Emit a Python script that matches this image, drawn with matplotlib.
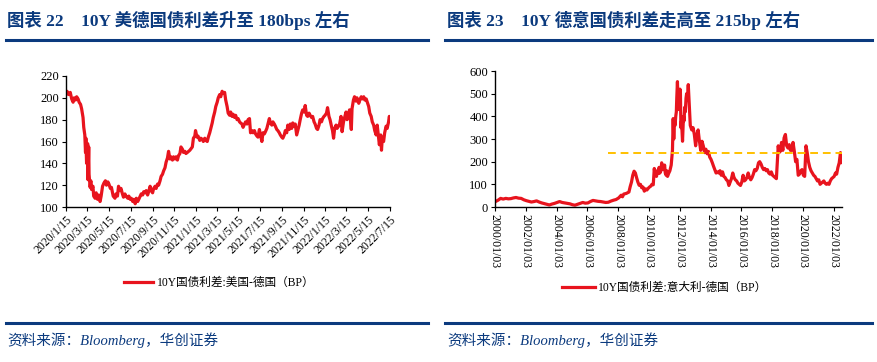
import pandas as pd
import numpy as np
import matplotlib.pyplot as plt
import matplotlib.lines as mlines

plt.rcParams['font.family'] = ['Liberation Serif', 'Noto Sans CJK SC']

# ---- left chart: 10Y US - German spread (bp)
us_de_dates = [
    '2020-01-15', '2020-01-18', '2020-01-22', '2020-01-27', '2020-01-31', '2020-02-04', '2020-02-07',
    '2020-02-11', '2020-02-14', '2020-02-18', '2020-02-21', '2020-02-25', '2020-02-28', '2020-03-03',
    '2020-03-05', '2020-03-08', '2020-03-10', '2020-03-11', '2020-03-13', '2020-03-16', '2020-03-17',
    '2020-03-19', '2020-03-20', '2020-03-23', '2020-03-25', '2020-03-27', '2020-03-31', '2020-04-02',
    '2020-04-06', '2020-04-09', '2020-04-13', '2020-04-16', '2020-04-20', '2020-04-23', '2020-04-27',
    '2020-05-01', '2020-05-05', '2020-05-08', '2020-05-12', '2020-05-15', '2020-05-19', '2020-05-22',
    '2020-05-27', '2020-06-01', '2020-06-04', '2020-06-08', '2020-06-11', '2020-06-15', '2020-06-18',
    '2020-06-22', '2020-06-25', '2020-06-29', '2020-07-02', '2020-07-07', '2020-07-10', '2020-07-14',
    '2020-07-17', '2020-07-21', '2020-07-24', '2020-07-28', '2020-07-31', '2020-08-04', '2020-08-07',
    '2020-08-11', '2020-08-14', '2020-08-18', '2020-08-21', '2020-08-25', '2020-08-28', '2020-09-01',
    '2020-09-04', '2020-09-08', '2020-09-11', '2020-09-15', '2020-09-18', '2020-09-22', '2020-09-25',
    '2020-09-29', '2020-10-02', '2020-10-06', '2020-10-09', '2020-10-13', '2020-10-16', '2020-10-20',
    '2020-10-23', '2020-10-27', '2020-10-30', '2020-11-03', '2020-11-06', '2020-11-10', '2020-11-13',
    '2020-11-17', '2020-11-20', '2020-11-24', '2020-11-27', '2020-12-01', '2020-12-04', '2020-12-08',
    '2020-12-11', '2020-12-15', '2020-12-18', '2020-12-22', '2020-12-29', '2021-01-05', '2021-01-08',
    '2021-01-12', '2021-01-14', '2021-01-18', '2021-01-21', '2021-01-26', '2021-01-29', '2021-02-02',
    '2021-02-05', '2021-02-09', '2021-02-12', '2021-02-16', '2021-02-19', '2021-02-23', '2021-02-26',
    '2021-03-02', '2021-03-05', '2021-03-09', '2021-03-12', '2021-03-16', '2021-03-19', '2021-03-23',
    '2021-03-26', '2021-03-30', '2021-04-02', '2021-04-06', '2021-04-09', '2021-04-13', '2021-04-16',
    '2021-04-20', '2021-04-23', '2021-04-27', '2021-04-30', '2021-05-04', '2021-05-07', '2021-05-11',
    '2021-05-14', '2021-05-18', '2021-05-21', '2021-05-25', '2021-05-28', '2021-06-01', '2021-06-04',
    '2021-06-08', '2021-06-11', '2021-06-15', '2021-06-18', '2021-06-22', '2021-06-25', '2021-06-29',
    '2021-07-02', '2021-07-06', '2021-07-09', '2021-07-13', '2021-07-16', '2021-07-20', '2021-07-23',
    '2021-07-27', '2021-07-30', '2021-08-03', '2021-08-06', '2021-08-10', '2021-08-13', '2021-08-17',
    '2021-08-20', '2021-08-24', '2021-08-27', '2021-08-31', '2021-09-03', '2021-09-07', '2021-09-10',
    '2021-09-14', '2021-09-17', '2021-09-21', '2021-09-24', '2021-09-28', '2021-10-01', '2021-10-05',
    '2021-10-08', '2021-10-12', '2021-10-15', '2021-10-19', '2021-10-22', '2021-10-26', '2021-10-29',
    '2021-11-02', '2021-11-05', '2021-11-09', '2021-11-12', '2021-11-16', '2021-11-19', '2021-11-23',
    '2021-11-26', '2021-11-30', '2021-12-03', '2021-12-07', '2021-12-10', '2021-12-14', '2021-12-17',
    '2021-12-21', '2021-12-24', '2021-12-28', '2021-12-31', '2022-01-04', '2022-01-07', '2022-01-11',
    '2022-01-14', '2022-01-18', '2022-01-21', '2022-01-25', '2022-01-28', '2022-02-01', '2022-02-04',
    '2022-02-07', '2022-02-10', '2022-02-14', '2022-02-17', '2022-02-21', '2022-02-24', '2022-02-28',
    '2022-03-03', '2022-03-07', '2022-03-10', '2022-03-14', '2022-03-17', '2022-03-21', '2022-03-24',
    '2022-03-29', '2022-03-31', '2022-04-04', '2022-04-07', '2022-04-11', '2022-04-14', '2022-04-19',
    '2022-04-22', '2022-04-26', '2022-04-29', '2022-05-03', '2022-05-06', '2022-05-10', '2022-05-13',
    '2022-05-17', '2022-05-20', '2022-05-24', '2022-05-27', '2022-05-31', '2022-06-03', '2022-06-07',
    '2022-06-10', '2022-06-14', '2022-06-16', '2022-06-20', '2022-06-22', '2022-06-24', '2022-06-28',
    '2022-07-01', '2022-07-05', '2022-07-08', '2022-07-12', '2022-07-14', '2022-07-18',
]
us_de_values = [
    204, 206, 203, 205, 199, 196, 200,
    198, 201, 199, 196, 194, 190, 182,
    173, 166, 150, 163, 140, 158, 125,
    155, 130, 118, 124, 116, 119, 110,
    108, 113, 107, 111, 105, 110, 119,
    122, 124, 120, 123, 121, 117, 118,
    110, 108, 112, 110, 119, 115, 117,
    112, 109, 112, 110, 108, 110, 107,
    108, 105, 107, 103, 108, 105, 107,
    110, 112, 111, 114, 113, 115, 111,
    114, 119, 115, 113, 117, 119, 117,
    121, 120, 124, 128, 130, 133, 136,
    141, 145, 151, 144, 146, 143, 146,
    144, 146, 143, 147, 149, 155, 153,
    150, 151, 149, 150, 152, 155, 163,
    165, 170, 164, 165, 161, 163, 162,
    160, 163, 161, 160, 164, 168, 172,
    177, 182, 187, 192, 196, 200, 203,
    201, 206, 204, 205, 198, 192, 186,
    184, 187, 183, 185, 182, 184, 180,
    181, 178, 177, 176, 173, 176, 178,
    176, 180, 181, 168, 170, 168, 170,
    167, 165, 164, 171, 166, 160, 168,
    167, 169, 172, 176, 181, 177, 175,
    178, 176, 174, 171, 170, 168, 166,
    164, 163, 166, 170, 168, 175, 171,
    176, 172, 177, 174, 176, 166, 170,
    175, 180, 186, 189, 187, 193, 184,
    183, 186, 184, 182, 183, 178, 176,
    172, 171, 175, 180, 178, 181, 183,
    184, 186, 191, 183, 180, 174, 170,
    163, 172, 175, 172, 174, 176, 183,
    169, 178, 182, 187, 180, 185, 189,
    171, 190, 198, 201, 197, 200, 195,
    198, 201, 199, 201, 198, 199, 196,
    192, 186, 183, 178, 175, 170, 166,
    175, 163, 157, 166, 152, 162, 160,
    168, 174, 172, 178, 183, 180,
]
us_de_ticks = ['2020/1/15', '2020/3/15', '2020/5/15', '2020/7/15', '2020/9/15', '2020/11/15',
               '2021/1/15', '2021/3/15', '2021/5/15', '2021/7/15', '2021/9/15', '2021/11/15',
               '2022/1/15', '2022/3/15', '2022/5/15', '2022/7/15']
us_de_yticks = [100, 120, 140, 160, 180, 200, 220]

# ---- right chart: 10Y Italy - German spread (bp)
it_de_dates = [
    '2000-01-03', '2000-03-15', '2000-05-15', '2000-07-15', '2000-09-15', '2000-11-15',
    '2001-01-15', '2001-03-15', '2001-05-15', '2001-07-15', '2001-09-15', '2001-11-15',
    '2002-01-15', '2002-03-15', '2002-05-15', '2002-07-15', '2002-09-15', '2002-11-15',
    '2003-01-15', '2003-03-15', '2003-05-15', '2003-07-15', '2003-09-15', '2003-11-15',
    '2004-01-15', '2004-03-15', '2004-05-15', '2004-07-15', '2004-09-15', '2004-11-15',
    '2005-01-15', '2005-03-15', '2005-05-15', '2005-07-15', '2005-09-15', '2005-11-15',
    '2006-01-15', '2006-03-15', '2006-05-15', '2006-07-15', '2006-09-15', '2006-11-15',
    '2007-01-15', '2007-03-15', '2007-05-15', '2007-07-15', '2007-09-15', '2007-11-15',
    '2008-01-15', '2008-03-15', '2008-04-15', '2008-05-15', '2008-07-15', '2008-09-15',
    '2008-10-15', '2008-11-15', '2008-12-15', '2009-01-15', '2009-02-15', '2009-03-15',
    '2009-04-15', '2009-05-15', '2009-06-15', '2009-07-15', '2009-08-15', '2009-09-15',
    '2009-10-15', '2009-11-15', '2009-12-15', '2010-01-15', '2010-02-15', '2010-03-15',
    '2010-04-15', '2010-05-10', '2010-05-25', '2010-06-15', '2010-07-01', '2010-07-20',
    '2010-08-15', '2010-09-01', '2010-09-20', '2010-10-15', '2010-11-01', '2010-11-25',
    '2010-12-15', '2011-01-10', '2011-01-25', '2011-02-15', '2011-03-01', '2011-03-20',
    '2011-04-15', '2011-05-15', '2011-06-15', '2011-07-15', '2011-08-01', '2011-08-15',
    '2011-09-01', '2011-09-15', '2011-10-01', '2011-10-15', '2011-10-25', '2011-11-10',
    '2011-11-18', '2011-11-25', '2011-12-01', '2011-12-15', '2011-12-25', '2012-01-10',
    '2012-01-20', '2012-02-01', '2012-02-15', '2012-03-10', '2012-04-01', '2012-04-15',
    '2012-05-01', '2012-05-15', '2012-06-01', '2012-06-15', '2012-07-01', '2012-07-24',
    '2012-08-15', '2012-09-10', '2012-10-15', '2012-11-15', '2012-12-15',
    '2013-01-15', '2013-02-15', '2013-03-15', '2013-04-15', '2013-05-15', '2013-06-15',
    '2013-07-15', '2013-08-15', '2013-09-15', '2013-10-15', '2013-11-15', '2013-12-15',
    '2014-01-15', '2014-02-15', '2014-03-15', '2014-04-15', '2014-05-15', '2014-06-15',
    '2014-07-15', '2014-08-15', '2014-09-15', '2014-10-15', '2014-11-15', '2014-12-15',
    '2015-01-15', '2015-02-15', '2015-03-15', '2015-04-15', '2015-05-15', '2015-06-15',
    '2015-07-15', '2015-08-15', '2015-09-15', '2015-10-15', '2015-11-15', '2015-12-15',
    '2016-01-15', '2016-02-15', '2016-03-15', '2016-04-15', '2016-05-15', '2016-06-15',
    '2016-07-15', '2016-08-15', '2016-09-15', '2016-10-15', '2016-11-15', '2016-12-15',
    '2017-01-15', '2017-02-15', '2017-03-15', '2017-04-15', '2017-05-15', '2017-06-15',
    '2017-07-15', '2017-08-15', '2017-09-15', '2017-10-15', '2017-11-15', '2017-12-15',
    '2018-01-15', '2018-02-15', '2018-03-15', '2018-04-15', '2018-05-29', '2018-06-15',
    '2018-07-15', '2018-08-15', '2018-09-15', '2018-10-15', '2018-11-15', '2018-12-15',
    '2019-01-15', '2019-02-15', '2019-03-15', '2019-04-15', '2019-05-15', '2019-06-15',
    '2019-07-15', '2019-08-15', '2019-09-15', '2019-10-15', '2019-11-15', '2019-12-15',
    '2020-01-15', '2020-02-15', '2020-03-18', '2020-04-15', '2020-05-15', '2020-06-15',
    '2020-07-15', '2020-08-15', '2020-09-15', '2020-10-15', '2020-11-15', '2020-12-15',
    '2021-01-15', '2021-02-15', '2021-03-15', '2021-04-15', '2021-05-15', '2021-06-15',
    '2021-07-15', '2021-08-15', '2021-09-15', '2021-10-15', '2021-11-15', '2021-12-15',
    '2022-01-15', '2022-02-15', '2022-03-15', '2022-04-15', '2022-05-15', '2022-06-14',
    '2022-06-25', '2022-07-18',
]
it_de_values = [
    23, 30, 38, 35, 38, 36,
    37, 40, 42, 39, 38, 32,
    28, 25, 22, 24, 27, 22,
    18, 15, 12, 9, 13, 16,
    20, 24, 20, 18, 16, 14,
    10, 8, 12, 16, 20, 17,
    18, 24, 29, 27, 25, 24,
    22, 20, 21, 26, 30, 33,
    40, 52, 45, 57, 60, 66,
    90, 110, 140, 158, 150, 130,
    110, 96, 100, 85, 88, 70,
    80, 75, 82, 88, 92, 100,
    98, 170, 145, 160, 135, 155,
    148, 175, 150, 160, 195, 170,
    165, 185, 150, 140, 160, 135,
    148, 160, 185, 250, 390, 300,
    380, 360, 400, 420, 480, 553,
    500, 440, 430, 480, 470, 520,
    500, 350, 380, 290, 400, 380,
    440, 420, 480, 500, 470, 540,
    460, 360, 340, 350, 320,
    270, 320, 340, 290, 250, 290,
    270, 240, 255, 235, 245, 220,
    210, 195, 180, 165, 150, 155,
    150, 160, 140, 155, 135, 130,
    120, 115, 95, 110, 125, 150,
    130, 120, 115, 105, 100, 95,
    110, 140, 115, 120, 130, 150,
    130, 120, 130, 145, 165, 160,
    170, 195, 200, 190, 175, 165,
    170, 160, 165, 150, 145, 155,
    140, 135, 130, 125, 270, 240,
    245, 285, 250, 305, 320, 270,
    260, 275, 250, 250, 285, 245,
    200, 210, 140, 145, 160, 165,
    140, 135, 270, 240, 200, 175,
    160, 150, 140, 135, 125, 115,
    120, 100, 105, 110, 115, 105,
    100, 105, 100, 115, 125, 130,
    135, 150, 145, 175, 195, 240,
    195, 215,
]
it_de_ticks = ['2000/01/03', '2002/01/03', '2004/01/03', '2006/01/03', '2008/01/03', '2010/01/03',
               '2012/01/03', '2014/01/03', '2016/01/03', '2018/01/03', '2020/01/03', '2022/01/03']
it_de_yticks = [0, 100, 200, 300, 400, 500, 600]
ref_level = 240
ref_span = ['2007-05-01', '2022-07-18']

red = '#E8141E'
navy = '#0B3A7E'

fig = plt.figure(figsize=(8.77, 3.62), dpi=100)

# headers / footers
fig.text(7 / 877, 1 - 20 / 362, '图表 22    10Y 美德国债利差升至 180bps 左右', fontsize=12.5,
         fontweight='bold', color=navy, va='center', ha='left')
fig.text(447 / 877, 1 - 20 / 362, '图表 23    10Y 德意国债利差走高至 215bp 左右', fontsize=12.5,
         fontweight='bold', color=navy, va='center', ha='left')
for x0, x1 in [(6, 428), (445, 872)]:
    fig.add_artist(mlines.Line2D([x0 / 877, x1 / 877], [1 - 40 / 362] * 2, color=navy, lw=2.2))
    fig.add_artist(mlines.Line2D([x0 / 877, x1 / 877], [1 - 323 / 362] * 2, color=navy, lw=2.2))
fig.text(7 / 877, 1 - 340 / 362, '资料来源：Bloomberg，华创证券', fontsize=10.5, style='italic',
         color=navy, va='center', ha='left')
fig.text(447 / 877, 1 - 340 / 362, '资料来源：Bloomberg，华创证券', fontsize=10.5, style='italic',
         color=navy, va='center', ha='left')

# left chart
ax1 = fig.add_axes([66 / 877, 1 - 207 / 362, 324 / 877, 131 / 362])
ax1.plot(pd.to_datetime(us_de_dates), us_de_values, color=red, lw=2.3,
         label='10Y国债利差:美国-德国（BP）')
ax1.set_ylim(100, 220)
ax1.set_yticks(us_de_yticks)
ax1.set_xlim(pd.Timestamp('2020-01-15'), pd.Timestamp('2022-07-16'))
ax1.set_xticks(pd.to_datetime(us_de_ticks, format='%Y/%m/%d'))
ax1.set_xticklabels(us_de_ticks, rotation=45, ha='right', rotation_mode='anchor')
ax1.legend(loc='center left', bbox_to_anchor=(124 / 877, 1 - 283 / 362), bbox_transform=fig.transFigure,
           frameon=False, fontsize=8.4, handlelength=2.5, handletextpad=0.3, borderpad=0,
           borderaxespad=0)

# right chart
ax2 = fig.add_axes([495 / 877, 1 - 207 / 362, 347 / 877, 136 / 362])
ax2.plot(pd.to_datetime(it_de_dates), it_de_values, color=red, lw=2.3,
         label='10Y国债利差:意大利-德国（BP）')
ax2.plot(pd.to_datetime(ref_span), [ref_level, ref_level], color='#FFC000', lw=1.4,
         ls=(0, (4, 2.5)))
ax2.set_ylim(0, 600)
ax2.set_yticks(it_de_yticks)
ax2.set_xlim(pd.Timestamp('2000-01-03'), pd.Timestamp('2022-07-20'))
ax2.set_xticks(pd.to_datetime(it_de_ticks, format='%Y/%m/%d'))
ax2.set_xticklabels(it_de_ticks, rotation=270, ha='left', va='center', rotation_mode='anchor')
h, l = ax2.get_legend_handles_labels()
ax2.legend(h[:1], l[:1], loc='center left', bbox_to_anchor=(562 / 877, 1 - 288 / 362),
           bbox_transform=fig.transFigure, frameon=False, fontsize=8.4, handlelength=2.8,
           handletextpad=0.3, borderpad=0, borderaxespad=0)

for ax in (ax1, ax2):
    for s in ('top', 'right'):
        ax.spines[s].set_visible(False)
    ax.spines['left'].set_linewidth(1.0)
    ax.spines['bottom'].set_linewidth(1.0)
    ax.tick_params(axis='y', direction='out', length=3, labelsize=9, pad=2)
    ax.set_facecolor('white')
ax1.tick_params(axis='x', direction='out', length=3, labelsize=8.5, pad=2)
ax2.tick_params(axis='x', direction='out', length=3, labelsize=8.5, pad=2)

plt.savefig('out.png', dpi=100)
